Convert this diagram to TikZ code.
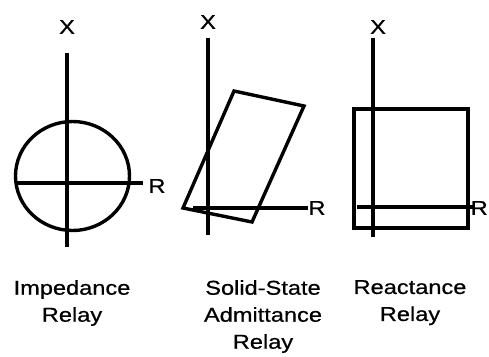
\documentclass[tikz,border=0pt]{standalone}
\usepackage{fontspec}
\setmainfont{Liberation Sans}[FakeStretch=1.18,FakeBold=0.6]
\begin{document}
\begin{tikzpicture}[x=1pt,y=-1pt,
  ln/.style={line width=3.4pt, line join=miter},
  axlbl/.style={font=\fontsize{20}{20}\selectfont, inner sep=0pt},
  captxt/.style={font=\fontsize{20}{27}\selectfont, align=center, inner sep=0pt, anchor=north}]
\useasboundingbox[fill=white] (0,0) rectangle (489,356);
% Panel 1: impedance
\coordinate (a1t) at (67,53); \coordinate (a1b) at (67,247);
\coordinate (h1l) at (16,183); \coordinate (h1r) at (143,183);
\draw[ln] (a1t) -- (a1b);
\draw[ln] (h1l) -- (h1r);
\draw[ln] (72.5,176) ellipse [x radius=57, y radius=54.5];
\node[axlbl] (x1) at (67,27) {X};
\node[axlbl] (r1) at (157,186) {R};
\node[captxt] (c1) at (72,280) {Impedance\\Relay};
% Panel 2: admittance
\coordinate (a2t) at (208,38); \coordinate (a2b) at (208,235);
\coordinate (h2l) at (193,208); \coordinate (h2r) at (308,208);
\draw[ln] (a2t) -- (a2b);
\draw[ln] (h2l) -- (h2r);
\draw[ln] (234,91) -- (304,106) -- (252,222) -- (183,208) -- cycle;
\node[axlbl] (x2) at (208,22) {X};
\node[axlbl] (r2) at (317,208) {R};
\node[captxt] (c2) at (263,280) {Solid-State\\Admittance\\Relay};
% Panel 3: reactance
\coordinate (a3t) at (373,38); \coordinate (a3b) at (373,237);
\coordinate (h3l) at (357,207); \coordinate (h3r) at (473,207);
\draw[ln] (a3t) -- (a3b);
\draw[ln] (h3l) -- (h3r);
\draw[ln] (354,109) rectangle (468,228);
\node[axlbl] (x3) at (378,27) {X};
\node[axlbl, anchor=east] (r3) at (488,208) {R};
\node[captxt] (c3) at (410,280) {Reactance\\Relay};
\end{tikzpicture}
\end{document}
